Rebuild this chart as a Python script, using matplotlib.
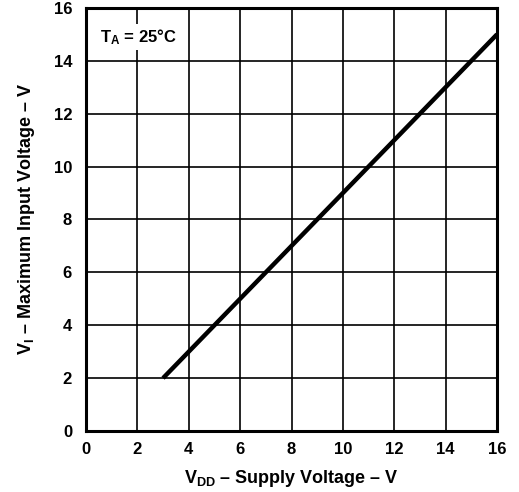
import matplotlib
matplotlib.use("Agg")
from matplotlib import pyplot as plt

# Maximum input voltage vs supply voltage
vdd = [3, 16]
vi_max = [2, 15]

x_ticks = [0, 2, 4, 6, 8, 10, 12, 14, 16]
y_ticks = [0, 2, 4, 6, 8, 10, 12, 14, 16]

plt.rcParams['font.family'] = ['Liberation Sans', 'DejaVu Sans']
plt.rcParams['font.weight'] = 'bold'
plt.rcParams['mathtext.fontset'] = 'custom'
plt.rcParams['mathtext.rm'] = 'Liberation Sans:bold'
plt.rcParams['mathtext.it'] = 'Liberation Sans:bold'
plt.rcParams['mathtext.bf'] = 'Liberation Sans:bold'

fig = plt.figure(figsize=(5.19, 4.92), dpi=100)
ax = fig.add_axes([0.1657, 0.124, 0.792, 0.860])

ax.plot(vdd, vi_max, color='black', linewidth=3.2, solid_capstyle='butt', zorder=3)

ax.set_xlim(0, 16)
ax.set_ylim(0, 16)
ax.set_xticks(x_ticks)
ax.set_yticks(y_ticks)
ax.tick_params(length=0, labelsize=12)
ax.tick_params(axis='x', pad=8)
ax.tick_params(axis='y', pad=10)
ax.grid(True, color='black', linewidth=1.2)
ax.set_axisbelow(True)
for s in ax.spines.values():
    s.set_linewidth(2.2)

ax.set_xlabel(r'$\mathrm{V_{DD}}$ – Supply Voltage – V', fontsize=13, fontweight='bold', labelpad=8)
ax.set_ylabel(r'$\mathrm{V_{I}}$ – Maximum Input Voltage – V', fontsize=13, fontweight='bold', labelpad=12)

ax.text(0.55, 14.9, r'$\mathrm{T_{A}}$ = 25°C', fontsize=12, fontweight='bold', va='center',
        bbox=dict(facecolor='white', edgecolor='none', pad=2), zorder=4)

fig.savefig('out.png', dpi=100)
